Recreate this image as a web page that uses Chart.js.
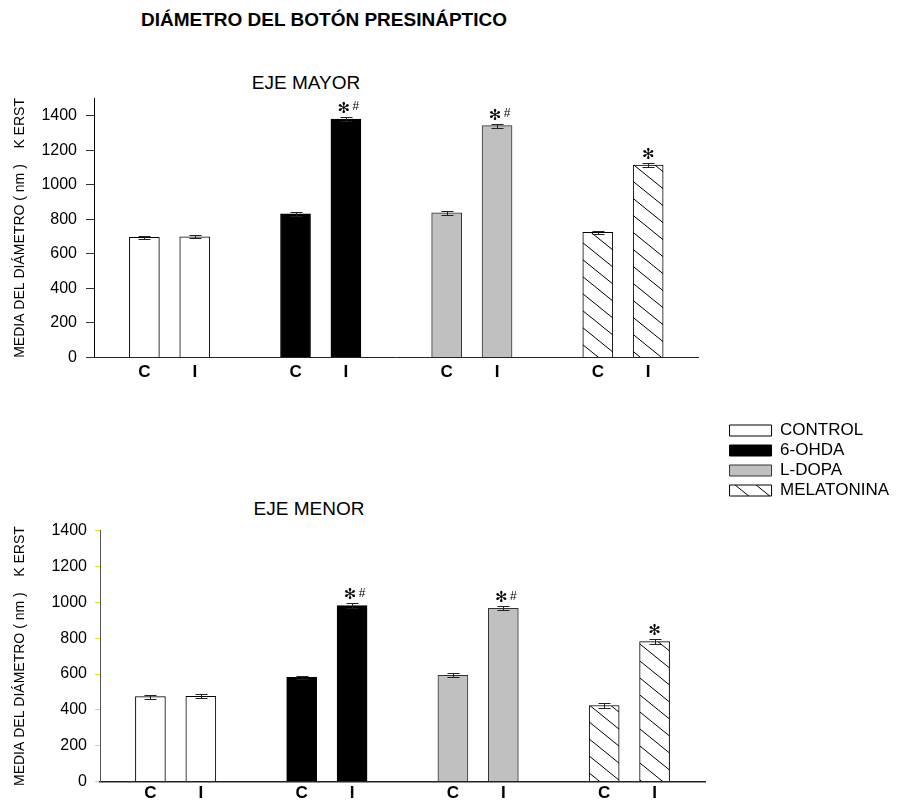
<!DOCTYPE html>
<html>
<head>
<meta charset="utf-8">
<title>Diámetro del botón presináptico</title>
<script src="https://cdn.jsdelivr.net/npm/chart.js@4.4.0/dist/chart.umd.min.js"></script>
<style>
  html, body { margin: 0; padding: 0; background: #fff; width: 901px; height: 807px; overflow: hidden; position: relative;
               font-family: 'Liberation Sans', Arial, sans-serif; color: #000; }
  .head { position: absolute; left: 0; text-align: center; white-space: nowrap; font-size: 19px; line-height: 19px; }
  #mainTitle { top: 10px; width: 648px; font-weight: bold; }
  #titleMayor { top: 73px; width: 612px; }
  #titleMenor { top: 499px; width: 618px; }
  canvas { position: absolute; }
  #chartMayor { top: 0; left: -200px; }
  #chartMenor { top: 500px; left: 0; }
</style>
</head>
<body>
<div class="head" id="mainTitle">DIÁMETRO DEL BOTÓN PRESINÁPTICO</div>
<div class="head" id="titleMayor">EJE MAYOR</div>
<div class="head" id="titleMenor">EJE MENOR</div>
<canvas id="chartMayor" width="1101" height="502"></canvas>
<canvas id="chartMenor" width="901" height="307"></canvas>
<script>
// Groups (legend) and the C / I label under each bar; empty slots space the groups apart
const groups = ['CONTROL', '6-OHDA', 'L-DOPA', 'MELATONINA'];
const xLabels = ['', 'C', 'I', '', 'C', 'I', '', 'C', 'I', '', 'C', 'I', ''];
const yTitle = 'MEDIA DEL DIÁMETRO ( nm )    K ERST';

// Eje mayor: mean diameter (nm) and SEM, C and I side for each group
const mayorC = [695, 832, 838, 724];
const mayorI = [699, 1381, 1342, 1114];
const mayorErrC = [10, 13, 12, 8];
const mayorErrI = [10, 13, 11, 10];

// Eje menor
const menorC = [474, 582, 593, 424];
const menorI = [476, 982, 967, 781];
const menorErrC = [11, 9, 10, 12];
const menorErrI = [12, 14, 11, 15];

// Significance marks over the I bars: star and hash
const starMarks = [false, true, true, true];
const hashMarks = [false, true, true, false];

Chart.defaults.font.family = "'Liberation Sans', Arial, sans-serif";
Chart.defaults.color = '#000';

function hatchPattern() {
  const w = 21, h = 17;
  const c = document.createElement('canvas');
  c.width = w; c.height = h;
  const g = c.getContext('2d');
  g.fillStyle = '#fff';
  g.fillRect(0, 0, w, h);
  g.strokeStyle = '#000';
  g.lineWidth = 1;
  g.beginPath();
  for (const [ox, oy] of [[0, 0], [w, 0], [0, h]]) {
    g.moveTo(ox - w, oy - h);
    g.lineTo(ox + 2 * w, oy + 2 * h);
  }
  g.stroke();
  return g.createPattern(c, 'repeat');
}

const fills = ['#ffffff', '#000000', '#c0c0c0', hatchPattern()];
const borders = ['#000', '#000', '#333', '#000'];

function slotData(cVals, iVals) {
  return groups.map((_, g) => {
    const d = xLabels.map(() => null);
    d[3 * g + 1] = cVals[g];
    d[3 * g + 2] = iVals[g];
    return d;
  });
}

function makeDatasets(cVals, iVals) {
  const series = slotData(cVals, iVals);
  return groups.map((name, g) => ({
    label: name,
    data: series[g],
    backgroundColor: fills[g],
    borderColor: borders[g],
    borderWidth: 1,
    barThickness: 30,
    grouped: false
  }));
}

// Error bars (mean ± SEM), placed through the y scale
function errorBarPlugin(errC, errI) {
  const errs = slotData(errC, errI);
  return {
    id: 'errorBars',
    afterDatasetsDraw(chart) {
      const { ctx } = chart;
      const y = chart.scales.y;
      ctx.save();
      chart.data.datasets.forEach((ds, i) => {
        const meta = chart.getDatasetMeta(i);
        meta.data.forEach((bar, j) => {
          const v = ds.data[j];
          if (v == null) return;
          const e = errs[i][j];
          const x = Math.round(bar.x) + 0.5;
          const yt = Math.round(y.getPixelForValue(v + e)) + 0.5;
          const yb = Math.round(y.getPixelForValue(v - e)) + 0.5;
          ctx.strokeStyle = '#222';
          ctx.lineWidth = 1;
          ctx.beginPath();
          ctx.moveTo(x, yt); ctx.lineTo(x, yb);
          ctx.moveTo(x - 6, yt); ctx.lineTo(x + 6, yt);
          ctx.moveTo(x - 6, yb); ctx.lineTo(x + 6, yb);
          ctx.stroke();
        });
      });
      ctx.restore();
    }
  };
}

// Significance marks above the I bars
function signifPlugin() {
  return {
    id: 'signif',
    afterDatasetsDraw(chart) {
      const { ctx } = chart;
      const y = chart.scales.y;
      ctx.save();
      ctx.fillStyle = '#000';
      ctx.textAlign = 'center';
      ctx.textBaseline = 'middle';
      groups.forEach((_, g) => {
        if (!starMarks[g]) return;
        const idx = 3 * g + 2;
        const bar = chart.getDatasetMeta(g).data[idx];
        const v = chart.data.datasets[g].data[idx];
        const cy = y.getPixelForValue(v) - 10;
        const sx = hashMarks[g] ? bar.x - 2 : bar.x;
        ctx.font = "15px 'DejaVu Sans'";
        ctx.fillText('✻', sx, cy);
        if (hashMarks[g]) {
          ctx.font = "12px 'Liberation Sans', Arial";
          ctx.fillText('#', bar.x + 10, cy - 2);
        }
      });
      ctx.restore();
    }
  };
}

function xScale(labelPad, height, borderWidth) {
  return {
    type: 'category',
    offset: false,
    grid: { display: false, drawTicks: false },
    border: { display: true, color: '#222', width: borderWidth },
    ticks: { autoSkip: false, maxRotation: 0, minRotation: 0, padding: labelPad,
             font: { size: 17, weight: 'bold' }, color: '#000' },
    afterFit(s) { s.height = height; }
  };
}

function yScale(max, width, titlePad, tickLen, tickPad, tickColor, axisColor) {
  return {
    min: 0,
    max: max,
    bounds: 'data',
    ticks: { stepSize: 200, padding: tickPad, font: { size: 16 }, color: '#000',
             callback: v => String(v) },
    afterBuildTicks(s) { s.ticks = s.ticks.filter(t => t.value <= 1400); },
    grid: { display: true, drawOnChartArea: false, drawTicks: true, tickLength: tickLen, color: tickColor },
    border: { display: true, color: axisColor, width: 1 },
    title: { display: true, text: yTitle, font: { size: 14 }, color: '#000', padding: { top: titlePad, bottom: 0 } },
    afterFit(s) { s.width = width; }
  };
}

// Eje mayor, with the legend below it on the right
new Chart(document.getElementById('chartMayor'), {
  type: 'bar',
  data: { labels: xLabels, datasets: makeDatasets(mayorC, mayorI) },
  options: {
    responsive: false,
    animation: false,
    events: [],
    layout: { padding: { left: 0, right: 2, top: 98.4, bottom: 0 } },
    plugins: {
      legend: {
        position: 'right',
        align: 'end',
        labels: { boxWidth: 42, boxHeight: 11, padding: 3, font: { size: 17 }, color: '#000' }
      },
      tooltip: { enabled: false }
    },
    scales: {
      x: xScale(5, 144.5, 1),
      y: yScale(1500, 294, 211.6, 8, 9, '#333', '#000'),
      gap: {
        position: 'right',
        display: true,
        grid: { display: false, drawTicks: false },
        border: { display: false },
        ticks: { display: false },
        afterFit(s) { s.width = 28; }
      }
    }
  },
  plugins: [errorBarPlugin(mayorErrC, mayorErrI), signifPlugin()]
});

// Eje menor
new Chart(document.getElementById('chartMenor'), {
  type: 'bar',
  data: { labels: xLabels, datasets: makeDatasets(menorC, menorI) },
  options: {
    responsive: false,
    animation: false,
    events: [],
    layout: { padding: { left: 0, right: 196, top: 30.7, bottom: 0 } },
    plugins: {
      legend: { display: false },
      tooltip: { enabled: false }
    },
    scales: {
      x: xScale(2, 25.5, 1.5),
      y: yScale(1400, 100, 11.6, 5, 8, '#e6e600', '#555')
    }
  },
  plugins: [errorBarPlugin(menorErrC, menorErrI), signifPlugin()]
});
</script>
</body>
</html>
